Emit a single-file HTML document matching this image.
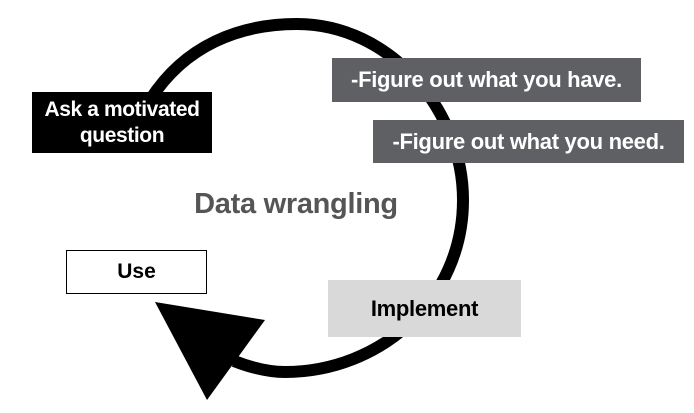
<!DOCTYPE html>
<html><head><style>
body{margin:0;width:694px;height:413px;background:#fff;position:relative;overflow:hidden;font-family:"Liberation Sans",Arial,sans-serif;font-weight:bold}
.b{position:absolute;display:flex;align-items:center;justify-content:center;text-align:center;box-sizing:border-box;white-space:nowrap}
</style></head><body>
<svg width="694" height="413" style="position:absolute;left:0;top:0">
<path d="M150,100 C185,45 240,24 297,24 C390,24 463,110 463,200 C463,300 380,372 285,372 C268,372 252,368 234,361" fill="none" stroke="#000" stroke-width="12"/>
<polygon points="155,302 265,320 207,400" fill="#000"/>
</svg>
<div class="b" style="left:32px;top:92px;width:180px;height:61px;background:#000;color:#fff;font-size:21px;line-height:26px;letter-spacing:-0.4px">Ask a motivated<br>question</div>
<div class="b" style="left:332px;top:58px;width:309px;height:44px;background:#5f6064;color:#fff;font-size:22px;letter-spacing:-0.3px">-Figure out what you have.</div>
<div class="b" style="left:373px;top:120px;width:311px;height:43px;background:#5f6064;color:#fff;font-size:22px;letter-spacing:-0.3px">-Figure out what you need.</div>
<div class="b" style="left:156px;top:185px;width:280px;height:38px;color:#555;font-size:29px;letter-spacing:-0.3px">Data wrangling</div>
<div class="b" style="left:66px;top:250px;width:141px;height:44px;border:1px solid #000;background:#fff;color:#000;font-size:21px">Use</div>
<div class="b" style="left:328px;top:280px;width:193px;height:57px;background:#d9d9d9;color:#000;font-size:22px;letter-spacing:-0.3px">Implement</div>
</body></html>
